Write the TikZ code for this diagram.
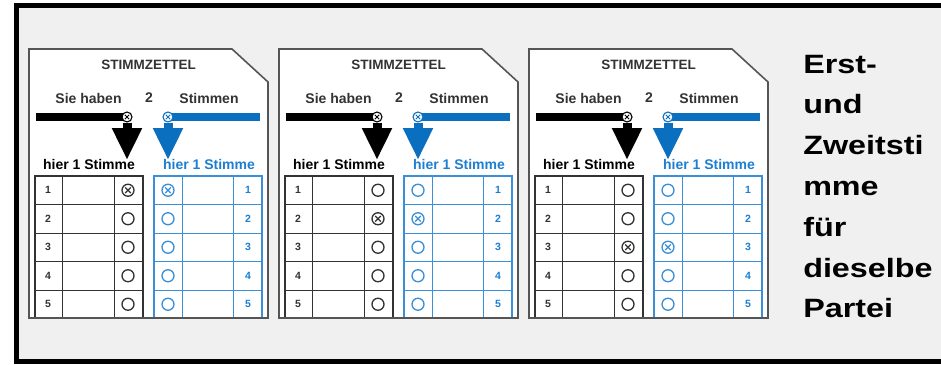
\documentclass[tikz,border=0pt]{standalone}
\usepackage{fontspec}
\setmainfont{Liberation Sans}
\usetikzlibrary{arrows.meta}
\definecolor{bgray}{HTML}{F0F0F0}
\definecolor{vblue}{HTML}{0B6FC0}
\definecolor{lblue}{HTML}{3B8FD6}
\definecolor{tblue}{HTML}{1C7FD2}
\definecolor{outl}{HTML}{555555}
\definecolor{tblk}{HTML}{333333}
\begin{document}
\begin{tikzpicture}[x=1pt,y=-1pt,
  ballot/.style={draw=outl,fill=white,line width=1.6pt,line join=miter},
  title/.style={font=\bfseries\fontsize{13.5}{15}\selectfont,text=tblk,inner sep=0pt},
  lab/.style={font=\bfseries\fontsize{14}{16}\selectfont,inner sep=0pt},
  num/.style={font=\bfseries\fontsize{10.5}{12}\selectfont,inner sep=0pt},
  circ/.style={circle,draw,minimum size=12pt,inner sep=0pt,line width=1.3pt},
  topc/.style={circle,draw,fill=white,minimum size=10pt,inner sep=0pt,line width=1.1pt},
  bigarrow/.style={line width=9pt,-{Triangle[width=28pt,length=32pt]}},
  tline/.style={line width=1pt},
  touter/.style={line width=1.6pt},
  rtext/.style={font=\bfseries\fontsize{26.5}{30}\selectfont,anchor=base west,inner sep=0pt,xscale=1.22}
]
\useasboundingbox (0,0) rectangle (941,364);
\clip (0,0) rectangle (941,364);
\draw[line width=5pt,fill=bgray] (16.5,5) rectangle (980,361.5);

\foreach \k in {0,1,2} {
\begin{scope}[xshift=\k*250pt]
  \draw[ballot] (29,49) -- (232,49) -- (268,82) -- (268,318) -- (29,318) -- cycle;
  \node[title] (b\k-t) at (148.5,65) {STIMMZETTEL};
  \node[lab,text=tblk] (b\k-sie) at (88.5,98) {Sie haben};
  \node[lab,text=tblk] (b\k-two) at (149,98) {2};
  \node[lab,text=tblk] (b\k-st) at (209,98) {Stimmen};
  % bars
  \fill[black] (36,113) rectangle (127,121);
  \fill[vblue] (168,113) rectangle (260,121);
  % top circles
  \node[topc] (b\k-ca) at (127,117) {};
  \node[topc,draw=vblue] (b\k-cb) at (168,117) {};
  \draw[line width=0.9pt] (b\k-ca.center) +(-2.2,-2.2) -- +(2.2,2.2) +(-2.2,2.2) -- +(2.2,-2.2);
  \draw[line width=0.9pt,vblue] (b\k-cb.center) +(-2.2,-2.2) -- +(2.2,2.2) +(-2.2,2.2) -- +(2.2,-2.2);
  \coordinate (b\k-ta) at (127,160);
  \coordinate (b\k-tb) at (168,160);
  \draw[bigarrow,black] (b\k-ca.south) -- (b\k-ta);
  \draw[bigarrow,vblue] (b\k-cb.south) -- (b\k-tb);
  \node[lab,text=black] (b\k-h1) at (89,164) {hier 1 Stimme};
  \node[lab,text=tblue] (b\k-h2) at (209,164) {hier 1 Stimme};
  % black table
  \foreach \x in {62,114} \draw[tline,tblk] (\x,176) -- (\x,318);
  \foreach \y in {204.5,233,261.5,290} \draw[tline,tblk] (35,\y) -- (143,\y);
  \draw[touter,tblk] (35,318) -- (35,176) -- (143,176) -- (143,318);
  % blue table
  \foreach \x in {182,233} \draw[tline,lblue] (\x,176) -- (\x,318);
  \foreach \y in {204.5,233,261.5,290} \draw[tline,lblue] (154,\y) -- (262,\y);
  \draw[touter,lblue] (154,318) -- (154,176) -- (262,176) -- (262,318);
  \foreach \r in {1,...,5} {
    \pgfmathsetmacro\yc{176+28.5*(\r-0.5)}
    \node[num,text=tblk] (b\k-n\r) at (48,\yc) {\r};
    \node[circ,draw=tblk] (b\k-l\r) at (128,\yc) {};
    \node[circ,draw=lblue] (b\k-r\r) at (168,\yc) {};
    \node[num,text=tblue] (b\k-m\r) at (248,\yc) {\r};
  }
  \pgfmathtruncatemacro\mk{\k+1}
  \draw[line width=1.1pt,tblk] (b\k-l\mk.center) +(-2.8,-2.8) -- +(2.8,2.8) +(-2.8,2.8) -- +(2.8,-2.8);
  \draw[line width=1.1pt,lblue] (b\k-r\mk.center) +(-2.8,-2.8) -- +(2.8,2.8) +(-2.8,2.8) -- +(2.8,-2.8);
  % ballot bottom edge over tables
  \draw[outl,line width=1.6pt] (29,318) -- (268,318);
\end{scope}
}

\node[rtext] (r1) at (803,73) {Erst-};
\node[rtext] (r2) at (803,113.8) {und};
\node[rtext] (r3) at (803,154.6) {Zweitsti};
\node[rtext] (r4) at (803,195.4) {mme};
\node[rtext] (r5) at (803,236.2) {für};
\node[rtext] (r6) at (803,277) {dieselbe};
\node[rtext] (r7) at (803,317.8) {Partei};
\end{tikzpicture}
\end{document}
